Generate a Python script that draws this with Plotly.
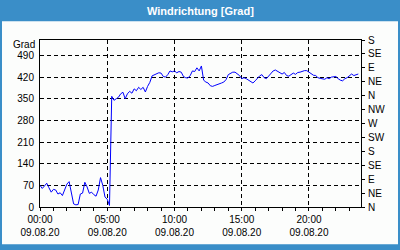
import pandas as pd
import plotly.graph_objects as go

# Wind direction in degrees, 10-minute values from 09.08.20 00:00
direction = [
    70, 60, 68, 77, 62, 48, 57, 55, 42, 46,
    37, 58, 74, 82, 45, 10, 7, 8, 42, 45,
    80, 65, 44, 48, 40, 35, 55, 95, 70, 32,
    25, 5, 358, 345, 350, 355, 366, 371, 350, 366,
    374, 368, 382, 376, 387, 380, 387, 372, 390, 403,
    424, 428, 430, 434, 433, 422, 420, 428, 440, 437,
    440, 434, 438, 436, 422, 418, 417, 425, 440, 438,
    450, 440, 456, 410, 404, 401, 392, 390, 393, 395,
    398, 401, 404, 412, 428, 432, 436, 436, 430, 425,
    415, 418, 415, 411, 407, 401, 408, 416, 424, 428,
    418, 415, 424, 434, 440, 443, 439, 436, 430, 435,
    425, 423, 428, 433, 429, 435, 436, 439, 441, 441,
    436, 430, 426, 425, 418, 416, 415, 413, 418, 415,
    420, 420, 422, 415, 410, 408, 415, 418, 423, 430,
    425, 427, 430,
]
times = pd.date_range("2020-08-09 00:00", periods=len(direction), freq="10min")

left_ticks = [0, 70, 140, 210, 280, 350, 420, 490]
right_tickvals = [0, 45, 90, 135, 180, 225, 270, 315, 360, 405, 450, 495, 540]
right_ticktext = ["N", "NE", "E", "SE", "S", "SW", "W", "NW", "N", "NE", "E", "SE", "S"]

title_text = "Windrichtung [Grad]"
unit_text = "Grad"

FONT = "Liberation Sans"
BLUE = "#3a8ec8"
BG = "#fcfdfc"

fig = go.Figure()
fig.add_trace(go.Scatter(x=times, y=direction, mode="lines",
                         line=dict(color="#0000ff", width=1), showlegend=False,
                         hoverinfo="skip"))
# invisible trace for right axis
fig.add_trace(go.Scatter(x=[times[0]], y=[0], yaxis="y2", mode="markers",
                         marker=dict(opacity=0), showlegend=False, hoverinfo="skip"))

L, R, T, B = 40, 39, 40, 40
W, H = 400, 250
pw, ph = W - L - R, H - T - B

def px_x(x):
    return (x - L) / pw

def px_y(y):
    return (H - B - y) / ph

fig.update_layout(
    width=W, height=H,
    margin=dict(l=L, r=R, t=T, b=B, pad=0),
    paper_bgcolor=BLUE,
    plot_bgcolor=BG,
    font=dict(family=FONT, size=10, color="#000000"),
    shapes=[dict(type="rect", xref="paper", yref="paper",
                 x0=px_x(2), x1=px_x(398), y0=px_y(248), y1=px_y(21),
                 fillcolor=BG, line=dict(width=0), layer="below")],
    annotations=[
        dict(text="<b>" + title_text + "</b>", xref="paper", yref="paper",
             x=px_x(200), y=px_y(10.5), showarrow=False, xanchor="center", yanchor="middle",
             font=dict(family=FONT, size=11, color="white")),
        dict(text=unit_text, xref="paper", yref="paper",
             x=px_x(37), y=px_y(45), showarrow=False, xanchor="right", yanchor="middle",
             font=dict(family=FONT, size=10, color="black")),
    ],
    xaxis=dict(
        type="date",
        range=["2020-08-09 00:00", "2020-08-09 23:52"],
        tick0="2020-08-09 00:00", dtick=5 * 3600000,
        tickformat="%H:%M<br>%d.%m.%y",
        showgrid=True, gridcolor="black", gridwidth=1, griddash="4px,3px",
        ticks="outside", ticklen=3, tickcolor="black",
        minor=dict(dtick=3600000, ticks="outside", ticklen=3, tickcolor="black", showgrid=False),
        showline=True, linecolor="black", linewidth=1, mirror=True,
        zeroline=False, fixedrange=True,
        tickfont=dict(family=FONT, size=10, color="black"),
    ),
    yaxis=dict(
        range=[0, 540], tickvals=left_ticks,
        showgrid=True, gridcolor="black", gridwidth=1, griddash="4px,3px",
        ticks="", showline=True, linecolor="black", linewidth=1, mirror=True,
        zeroline=False, ticklabelstandoff=3,
        tickfont=dict(family=FONT, size=10, color="black"),
    ),
    yaxis2=dict(
        overlaying="y", side="right", range=[0, 540],
        tickvals=right_tickvals, ticktext=right_ticktext,
        showgrid=False, zeroline=False, ticks="outside", ticklen=3, tickcolor="black",
        showline=False, ticklabelstandoff=1,
        tickfont=dict(family=FONT, size=10, color="black"),
    ),
)

fig.write_html("out.html")
